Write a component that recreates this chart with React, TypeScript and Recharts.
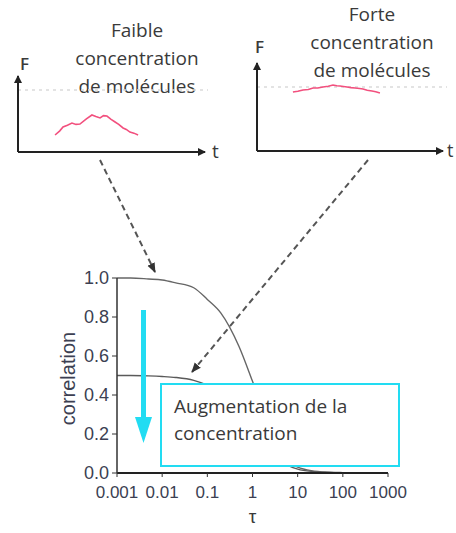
import React from "react";
import { LineChart, Line, XAxis, YAxis, ReferenceLine, Label } from "recharts";

// main chart : correlation vs tau (log)
const tau = [0.001, 0.002, 0.005, 0.01, 0.02, 0.05, 0.1, 0.2, 0.5, 1, 2, 5, 10, 20, 50, 100, 200, 500, 1000];
const corrFaible = [1.0, 1.0, 0.995, 0.99, 0.975, 0.95, 0.89, 0.82, 0.65, 0.47, 0.28, 0.07, 0.03, 0.012, 0.004, 0.002, 0.001, 0, 0];
const corrForte = [0.5, 0.5, 0.498, 0.495, 0.49, 0.475, 0.45, 0.41, 0.33, 0.24, 0.15, 0.05, 0.02, 0.008, 0.003, 0.001, 0, 0, 0];
const tauTicks = [0.001, 0.01, 0.1, 1, 10, 100, 1000];
const corrTicks = [0, 0.2, 0.4, 0.6, 0.8, 1.0];

// small fluorescence traces F(t)
const tFaible = [1.95, 2.2, 2.37, 2.6, 2.84, 3.05, 3.26, 3.6, 3.89, 4.1, 4.32, 4.5, 4.68, 4.9, 5.11, 5.3, 5.53, 5.7, 5.89, 6.1, 6.32];
const fFaible = [1.85, 2.3, 2.72, 2.9, 3.15, 3.0, 3.04, 3.6, 4.02, 3.85, 3.7, 3.95, 3.91, 3.55, 3.26, 3.0, 2.61, 2.45, 2.17, 2.05, 1.85];
const tForte = [1.89, 2.15, 2.42, 2.7, 2.95, 3.2, 3.47, 3.75, 4.0, 4.2, 4.37, 4.55, 4.74, 4.95, 5.16, 5.4, 5.58, 5.8, 6.05, 6.25, 6.47];
const fForte = [6.52, 6.6, 6.74, 6.8, 6.96, 6.95, 7.07, 7.15, 7.28, 7.2, 7.17, 7.12, 7.07, 7.0, 6.96, 6.9, 6.85, 6.72, 6.63, 6.55, 6.41];
const guideFaible = 6.74;
const guideForte = 7.07;

const mainData = tau.map((t, i) => ({ tau: t, faible: corrFaible[i], forte: corrForte[i] }));
const faibleData = tFaible.map((t, i) => ({ t, f: fFaible[i] }));
const forteData = tForte.map((t, i) => ({ t, f: fForte[i] }));

const TEXT = "#3a3a3a";
const TICK = "#3c3f52";
const CYAN = "#22dcf2";
const SANS = "'Open Sans', sans-serif";
const ARIAL = "'Liberation Sans', Arial, sans-serif";

function SmallTrace({ data, guide, left }: { data: { t: number; f: number }[]; guide: number; left: number }) {
  return (
    <div style={{ position: "absolute", left, top: 60 }}>
      <LineChart width={190} height={92} data={data} margin={{ top: 0, right: 0, bottom: 0, left: 0 }}>
        <XAxis dataKey="t" type="number" domain={[0, 10]} hide />
        <YAxis type="number" domain={[0, 10]} hide />
        <ReferenceLine y={guide} stroke="#dadada" strokeDasharray="3 4" strokeWidth={1.5} />
        <Line
          dataKey="f"
          type="linear"
          stroke="#f2507e"
          strokeWidth={1.6}
          dot={false}
          isAnimationActive={false}
        />
      </LineChart>
    </div>
  );
}

export default function App() {
  return (
    <div style={{ position: "absolute", left: 0, top: 0, width: 456, height: 533, background: "#fff", overflow: "hidden" }}>
      {/* titres des petits graphes */}
      <div style={{ position: "absolute", left: 57, top: 16, width: 160, textAlign: "center", font: `19px/28px ${SANS}`, color: TEXT }}>
        Faible<br />concentration<br />de molécules
      </div>
      <div style={{ position: "absolute", left: 292, top: 0, width: 160, textAlign: "center", font: `19px/28px ${SANS}`, color: TEXT }}>
        Forte<br />concentration<br />de molécules
      </div>

      <SmallTrace data={faibleData} guide={guideFaible} left={18} />
      <SmallTrace data={forteData} guide={guideForte} left={257} />

      {/* graphe principal */}
      <div style={{ position: "absolute", left: 0, top: 250 }}>
        <LineChart width={456} height={283} data={mainData} margin={{ top: 28, right: 68, bottom: 10, left: 57 }}>
          <XAxis
            dataKey="tau"
            type="number"
            scale="log"
            domain={[0.001, 1000]}
            ticks={tauTicks}
            interval={0}
            allowDataOverflow
            height={50}
            tickSize={4}
            tickMargin={9}
            tickFormatter={(v: number) => String(v)}
            axisLine={{ stroke: "#222", strokeWidth: 2 }}
            tickLine={{ stroke: "#333" }}
            tick={{ fill: TICK, fontSize: 17, fontFamily: ARIAL }}
          >
            <Label
              content={({ viewBox }: any) => (
                <text x={viewBox.x + viewBox.width / 2} y={viewBox.y + 50} textAnchor="middle" fill={TEXT} fontSize={19} fontFamily={ARIAL}>
                  τ
                </text>
              )}
            />
          </XAxis>
          <YAxis
            type="number"
            domain={[0, 1]}
            ticks={corrTicks}
            width={60}
            tickSize={5}
            tickMargin={3}
            tickFormatter={(v: number) => v.toFixed(1)}
            axisLine={{ stroke: "#333", strokeWidth: 1.5 }}
            tickLine={{ stroke: "#333" }}
            tick={{ fill: TICK, fontSize: 18, fontFamily: ARIAL }}
          >
            <Label
              content={({ viewBox }: any) => {
                const cx = viewBox.x + 18;
                const cy = viewBox.y + viewBox.height / 2 + 3;
                return (
                  <text x={cx} y={cy} transform={`rotate(-90 ${cx} ${cy})`} textAnchor="middle" fill={TICK} fontSize={20} fontFamily={ARIAL}>
                    correlation
                  </text>
                );
              }}
            />
          </YAxis>
          <Line dataKey="faible" type="monotone" stroke="#666" strokeWidth={1.4} dot={false} isAnimationActive={false} />
          <Line dataKey="forte" type="monotone" stroke="#5a5a5a" strokeWidth={1.4} dot={false} isAnimationActive={false} />
        </LineChart>
      </div>

      {/* annotations : axes fléchés, flèches pointillées, flèche cyan */}
      <svg width={456} height={533} style={{ position: "absolute", left: 0, top: 0, pointerEvents: "none" }}>
        <defs>
          <marker id="ah" markerWidth="8" markerHeight="8" refX="7" refY="4" orient="auto" markerUnits="userSpaceOnUse">
            <path d="M0,0 L8,4 L0,8 Z" fill="#222" />
          </marker>
          <marker id="dh" markerWidth="10" markerHeight="10" refX="9" refY="5" orient="auto" markerUnits="userSpaceOnUse">
            <path d="M0,1 L10,5 L0,9 Z" fill="#333" />
          </marker>
        </defs>
        <g stroke="#222" strokeWidth={2}>
          <line x1={18} y1={152} x2={18} y2={76} markerEnd="url(#ah)" />
          <line x1={18} y1={152} x2={205} y2={152} markerEnd="url(#ah)" />
          <line x1={257} y1={151} x2={257} y2={63} markerEnd="url(#ah)" />
          <line x1={257} y1={151} x2={443} y2={151} markerEnd="url(#ah)" />
        </g>
        <text x={20} y={70} fill={TEXT} fontSize={17} fontFamily={SANS} fontWeight={600}>F</text>
        <text x={212} y={158} fill={TEXT} fontSize={19} fontFamily={SANS}>t</text>
        <text x={255} y={53} fill={TEXT} fontSize={17} fontFamily={SANS} fontWeight={600}>F</text>
        <text x={447} y={157} fill={TEXT} fontSize={18} fontFamily={SANS}>t</text>

        <g stroke="#555" strokeWidth={2} strokeDasharray="6 4" fill="none">
          <line x1={100} y1={160} x2={155} y2={272} markerEnd="url(#dh)" />
          <line x1={368} y1={160} x2={192} y2={372} markerEnd="url(#dh)" />
        </g>

        <rect x={141} y={310} width={5} height={110} fill={CYAN} />
        <path d="M135,417 L152,417 L143.5,443 Z" fill={CYAN} />
      </svg>

      {/* encadré */}
      <div
        style={{
          position: "absolute",
          left: 160,
          top: 383,
          width: 224,
          height: 72,
          border: `2px solid ${CYAN}`,
          background: "#fff",
          color: TEXT,
          font: `19px/27px ${SANS}`,
          padding: "8px 0 0 12px",
          boxSizing: "content-box",
        }}
      >
        Augmentation de la<br />concentration
      </div>
    </div>
  );
}
